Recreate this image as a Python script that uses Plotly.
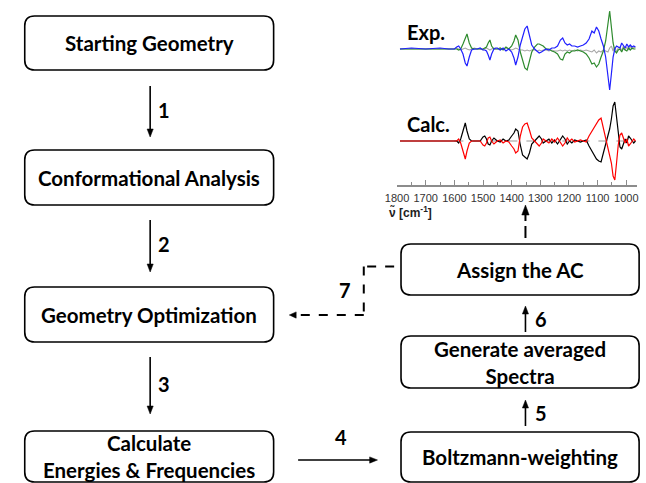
import plotly.graph_objects as go

W, H = 646, 483

# ---------------- data ----------------
box_labels = ["Starting Geometry", "Conformational Analysis", "Geometry Optimization",
              "Calculate<br>Energies & Frequencies", "Boltzmann-weighting",
              "Generate averaged<br>Spectra", "Assign the AC"]
step_labels = ["1", "2", "3", "4", "5", "6", "7"]
spec_labels = ["Exp.", "Calc."]
tick_vals = [1800, 1700, 1600, 1500, 1400, 1300, 1200, 1100, 1000]

wn = [1790, 1750, 1700, 1650, 1620, 1600, 1592, 1585, 1578, 1570,
      1562, 1556, 1548, 1540, 1530, 1520, 1510, 1500, 1494, 1488,
      1482, 1476, 1470, 1462, 1456, 1450, 1440, 1430, 1420, 1410,
      1400, 1392, 1386, 1378, 1370, 1362, 1354, 1346, 1338, 1330,
      1320, 1310, 1304, 1296, 1290, 1280, 1270, 1260, 1250, 1240,
      1230, 1222, 1214, 1206, 1198, 1190, 1180, 1170, 1160, 1150,
      1140, 1130, 1120, 1112, 1104, 1096, 1088, 1080, 1072, 1064,
      1058, 1052, 1046, 1040, 1034, 1028, 1022, 1016, 1010, 1004,
      998, 992, 986, 980, 974, 968]

exp_blue = [0, 1, 0, 1, 0, 0, 2, 3, 0, -5,
            -14, -17, -8, -1, 0, 0, 1, -1, -1, -2,
            -6, -11, -5, 0, 1, 1, -1, 1, -2, 0,
            -3, -9, -16, -8, 4, 12, 20, 23, 14, 4,
            0, -3, -4, -3, -2, 0, -1, 1, 1, 3,
            9, 11, 6, 4, 5, 3, 3, 2, 3, 4,
            6, 10, 18, 16, 22, 18, 10, 3, -8, -28,
            -41, -25, -8, 0, 3, 2, 1, 6, 3, 1,
            5, 2, 4, 2, 3, 2]

exp_green = [0, 0, 0, 0, 0, 0, 0, -1, 0, 5,
             12, 15, 6, 1, 0, 0, 0, 0, 1, 2,
             6, 9, 3, 0, 0, 0, 1, -1, 2, 0,
             3, 8, 14, 9, -3, -12, -19, -21, -12, -3,
             2, 5, 5, 4, 3, 0, 0, -2, -3, -5,
             -10, -11, -5, -3, -4, -2, -2, -1, -2, -3,
             -5, -9, -15, -14, -18, -15, -8, -2, 8, 26,
             38, 22, 6, -2, -4, -1, 0, -3, 1, -1,
             -2, 1, -1, 1, 0, 0]

exp_gray = [0, 0, 0, 0, 0, 0, 1, 0, -1, 0,
            1, 0, -1, 0, 1, 0, 0, -1, 0, 1,
            0, -1, 0, 1, 0, 0, -1, 0, 1, 0,
            -1, 0, 1, 0, -1, -1, -2, -1, -2, -1,
            -1, -2, -1, -2, -1, -1, -2, -1, -2, -2,
            -1, -2, -1, -2, -1, -2, -1, -2, -1, -2,
            -1, -2, -3, -1, -4, -2, -3, -1, -2, -3,
            1, 3, -2, 2, -3, 1, 2, -2, 3, -1,
            2, -1, 3, 0, 2, 1]

calc_black = [0, 0, 0, 0, 0, 0, 0, -2, 2, 10,
              18, 10, 2, 0, 0, 0, 0, 4, 5, 2,
              -3, -4, 0, 3, 1, 0, -1, 2, 0, 1,
              5, 8, 12, 10, -4, -14, -16, -18, -12, -3,
              0, 3, 5, 2, -2, 0, 2, -2, 1, -3,
              2, 5, 2, -3, 0, -2, 1, 0, -1, 0,
              1, -5, -10, -14, -18, -20, -21, -12, -4, 5,
              12, 22, 35, 39, 22, 4, -6, -8, -3, 2,
              -2, 5, 3, 0, -2, 0]

calc_red = [0, 0, 0, 0, 0, 0, 0, 2, -2, -10,
            -18, -10, -2, 0, 0, 0, 0, -4, -5, -2,
            3, 4, 0, -3, -1, 0, 1, -2, 0, -1,
            -5, -8, -12, -10, 5, 14, 17, 18, 11, 3,
            0, -3, -5, -2, 2, 0, -2, 2, -1, 3,
            -2, -5, -2, 3, 0, 2, -1, 0, 1, 0,
            -1, 5, 10, 14, 18, 21, 23, 13, 4, -5,
            -12, -22, -35, -39, -22, -4, 6, 8, 3, -2,
            2, -5, -3, 0, 2, 0]

for s in (exp_blue, exp_green, exp_gray, calc_black, calc_red):
    assert len(s) == len(wn), len(s)

# ---------------- figure ----------------
FONT = "Lato"
fig = go.Figure()

# invisible trace for main (pixel-space) axes
fig.add_trace(go.Scatter(x=[0, W], y=[0, H], mode="markers",
                         marker=dict(opacity=0), hoverinfo="skip",
                         showlegend=False, xaxis="x", yaxis="y"))

# spectra
fig.add_trace(go.Scatter(x=wn, y=exp_gray, xaxis="x2", yaxis="y2", mode="lines",
                         line=dict(color="#a8a8a8", width=1.1), showlegend=False))
fig.add_trace(go.Scatter(x=wn, y=exp_green, xaxis="x2", yaxis="y2", mode="lines",
                         line=dict(color="#2e8b2e", width=1.2), showlegend=False))
fig.add_trace(go.Scatter(x=wn, y=exp_blue, xaxis="x2", yaxis="y2", mode="lines",
                         line=dict(color="#2020ff", width=1.2), showlegend=False))

fig.add_trace(go.Scatter(x=[wn[5], wn[-1]], y=[0, 0], xaxis="x2", yaxis="y3", mode="lines",
                         line=dict(color="#999999", width=1, dash="dash"), showlegend=False))
fig.add_trace(go.Scatter(x=wn, y=calc_black, xaxis="x2", yaxis="y3", mode="lines",
                         line=dict(color="#000000", width=1.2), showlegend=False))
fig.add_trace(go.Scatter(x=wn, y=calc_red, xaxis="x2", yaxis="y3", mode="lines",
                         line=dict(color="#ff0000", width=1.2), showlegend=False))

shapes = []
annotations = []


def rbox(x0, y0, x1, y1, r=10):
    p = (f"M {x0+r},{y0} L {x1-r},{y0} Q {x1},{y0} {x1},{y0+r} "
         f"L {x1},{y1-r} Q {x1},{y1} {x1-r},{y1} L {x0+r},{y1} "
         f"Q {x0},{y1} {x0},{y1-r} L {x0},{y0+r} Q {x0},{y0} {x0+r},{y0} Z")
    shapes.append(dict(type="path", path=p, xref="x", yref="y",
                       line=dict(color="black", width=1.6), fillcolor="white", layer="below"))


def label(x, y, text, size=20.5, xanchor="center"):
    annotations.append(dict(x=x, y=y, xref="x", yref="y", text=f"<b>{text}</b>",
                            showarrow=False, xanchor=xanchor, yanchor="middle",
                            font=dict(family=FONT, size=size, color="black")))


def seg(x0, y0, x1, y1, dash=None, width=1.6):
    shapes.append(dict(type="line", x0=x0, y0=y0, x1=x1, y1=y1, xref="x", yref="y",
                       line=dict(color="black", width=width, dash=dash)))


def head(x, y, direction, s=5, l=8):
    if direction == "down":
        pts = [(x - s / 1.6, y - l), (x + s / 1.6, y - l), (x, y)]
    elif direction == "up":
        pts = [(x - s / 1.6, y + l), (x + s / 1.6, y + l), (x, y)]
    elif direction == "right":
        pts = [(x - l, y - s / 1.6), (x - l, y + s / 1.6), (x, y)]
    else:
        pts = [(x + l, y - s / 1.6), (x + l, y + s / 1.6), (x, y)]
    p = "M " + " L ".join(f"{a},{b}" for a, b in pts) + " Z"
    shapes.append(dict(type="path", path=p, xref="x", yref="y",
                       line=dict(color="black", width=0.5), fillcolor="black"))


# boxes
LX0, LX1 = 13, 267
RX0, RX1 = 397, 640
left_y = [(16, 70), (150, 205), (287, 342), (431, 482)]
right_y = [(432, 482), (336, 388), (244, 295)]
for (y0, y1), t in zip(left_y, box_labels[:4]):
    rbox(LX0, y0, LX1, y1)
    label((LX0 + LX1) / 2, (y0 + y1) / 2, t)
for (y0, y1), t in zip(right_y, box_labels[4:]):
    rbox(RX0, y0, RX1, y1)
    label((RX0 + RX1) / 2, (y0 + y1) / 2, t)

# arrows 1-3 (down)
AX = 141
for (ya, yb), t in zip([(86, 137), (220, 272), (357, 414)], step_labels[:3]):
    seg(AX, ya, AX, yb - 6)
    head(AX, yb, "down")
    label(AX + 14, (ya + yb) / 2 - 2, t, size=20)

# arrow 4 (right)
seg(292, 460, 366, 460)
head(373, 460, "right")
label(336, 437, step_labels[3], size=20)

# arrows 5, 6 (up)
for (ya, yb), t in zip([(426, 400), (332, 306)], step_labels[4:6]):
    seg(524, ya, 524, yb + 6)
    head(524, yb, "up")
    label(540, (ya + yb) / 2, t, size=20)

# dashed arrow from AC box to spectra
seg(524, 238, 524, 226, width=2)
seg(524, 221, 524, 214, width=2)
head(524, 205, "up", s=6, l=10)

# arrow 7 (dashed feedback)
seg(390, 266.5, 359, 266.5, dash="dash", width=2)
seg(359, 266.5, 359, 315, dash="dash", width=2)
seg(359, 315, 290, 315, dash="dash", width=2)
head(283, 315, "left", s=5, l=7)
label(340, 290, step_labels[6], size=20)

# spectra labels
label(401, 32, spec_labels[0], size=20, xanchor="left")
label(401, 124, spec_labels[1], size=20, xanchor="left")
annotations.append(dict(x=383, y=212, xref="x", yref="y",
                        text="<b>\u03bd\u0303 [cm<sup>-1</sup>]</b>", showarrow=False,
                        xanchor="left", yanchor="middle",
                        font=dict(family="Liberation Sans", size=12, color="#222")))

# axis geometry (pixels -> paper)
SX0, SX1 = 393, 638
def py(p):
    return 1 - p / H

fig.update_layout(
    width=W, height=H, margin=dict(l=0, r=0, t=0, b=0),
    paper_bgcolor="white", plot_bgcolor="rgba(0,0,0,0)",
    showlegend=False,
    xaxis=dict(range=[0, W], domain=[0, 1], visible=False, fixedrange=True),
    yaxis=dict(range=[H, 0], domain=[0, 1], visible=False, fixedrange=True),
    xaxis2=dict(range=[1800, 962], domain=[SX0 / W, SX1 / W], anchor="y3",
                showline=True, linecolor="#8c8c8c", linewidth=1.5,
                ticks="inside", ticklen=5, tickcolor="#8c8c8c", tickwidth=1,
                tickvals=tick_vals, showgrid=False, zeroline=False,
                minor=dict(ticks="inside", ticklen=3, tickcolor="#8c8c8c",
                           tickvals=[1750, 1650, 1550, 1450, 1350, 1250, 1150, 1050]),
                tickfont=dict(family="Liberation Sans", size=11, color="#333"),
                ticklabelstandoff=2),
    yaxis2=dict(range=[-45, 45], domain=[py(94), py(4)], anchor="x2",
                visible=False, fixedrange=True),
    yaxis3=dict(range=[-44, 45], domain=[py(185), py(96)], anchor="x2",
                visible=False, fixedrange=True),
    shapes=shapes, annotations=annotations,
)

fig.write_html("out.html")
